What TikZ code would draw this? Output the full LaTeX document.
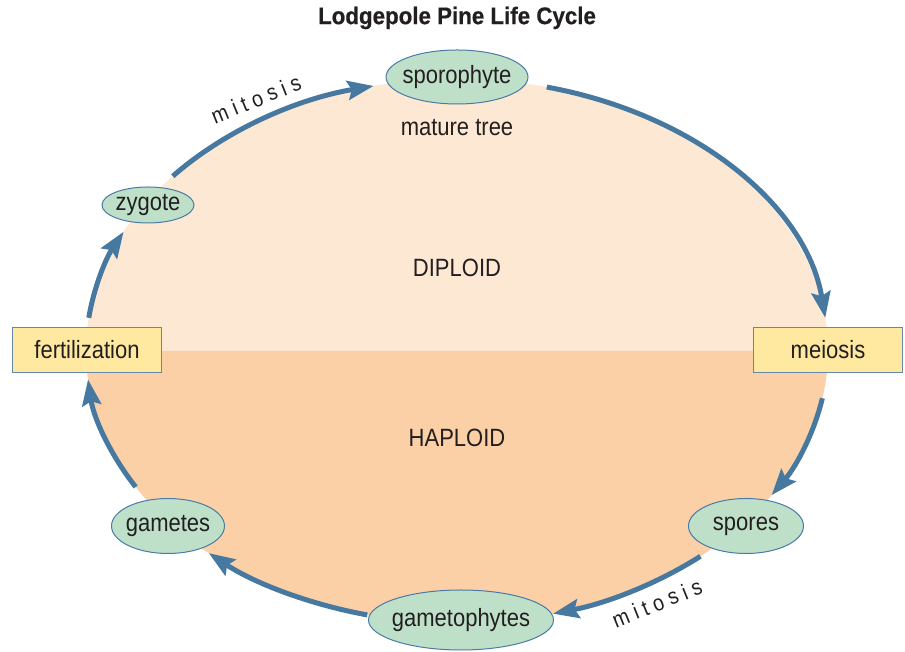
\documentclass[tikz,border=0pt]{standalone}
\usepackage{fontspec}
\setmainfont{Liberation Sans}[FakeStretch=0.88]
\newfontfamily\titlefont{Liberation Sans}[FakeStretch=0.93,BoldFeatures={FakeBold=0.6}]
\usetikzlibrary{shapes.geometric,arrows.meta,calc}
\definecolor{arrowblue}{RGB}{71,121,160}
\definecolor{stagefill}{RGB}{191,224,200}
\definecolor{stageborder}{RGB}{74,122,166}
\definecolor{boxfill}{RGB}{255,233,160}
\definecolor{boxborder}{RGB}{100,136,172}
\definecolor{diploidfill}{RGB}{253,232,211}
\definecolor{haploidfill}{RGB}{251,208,166}
\definecolor{textgray}{RGB}{35,31,32}
\newcommand{\fixedtext}[1]{\makebox[0pt]{#1}}
\begin{document}
\begin{tikzpicture}[x=1pt,y=1pt,
  stage/.style={ellipse, draw=stageborder, line width=1pt, fill=stagefill, inner sep=0pt,
    text=textgray, font=\fontsize{25}{30}\selectfont},
  event/.style={rectangle, draw=boxborder, line width=1.2pt, fill=boxfill, inner sep=0pt,
    minimum width=149pt, minimum height=45pt, text=textgray, font=\fontsize{25}{30}\selectfont},
  label/.style={text=textgray, inner sep=0pt, font=\fontsize{25}{30}\selectfont},
  spacedlabel/.style={text=textgray, inner sep=0pt, font=\fontsize{22.5}{26}\selectfont},
  cyc/.style={draw=arrowblue, line width=5pt, -{Stealth[length=26pt,width=19pt,inset=4pt]}},
]
\useasboundingbox (0,0) rectangle (905,652);
\coordinate (C) at (457,301);
% halves
\fill[diploidfill] (86,301) arc[start angle=180,end angle=0,x radius=371pt,y radius=272pt] -- cycle;
\fill[haploidfill] (86,301) arc[start angle=180,end angle=360,x radius=371pt,y radius=272pt] -- cycle;
% arc start points
\coordinate (s1) at ($(C)+(140:371 and 272)$);
\coordinate (s2) at ($(C)+(76:371 and 272)$);
\coordinate (s3) at ($(C)+(-10:371 and 272)$);
\coordinate (s4) at ($(C)+(-49:371 and 272)$);
\coordinate (s5) at ($(C)+(-104:371 and 272)$);
\coordinate (s6) at ($(C)+(-150:371 and 272)$);
\coordinate (s7) at ($(C)+(173:371 and 272)$);
% connectors
\draw[cyc] (s1) arc[start angle=140,end angle=103,x radius=371pt,y radius=272pt];
\draw[cyc] (s2) arc[start angle=76,end angle=7,x radius=371pt,y radius=272pt];
\draw[cyc] (s3) arc[start angle=-10,end angle=-32,x radius=371pt,y radius=272pt];
\draw[cyc] (s4) arc[start angle=-49,end angle=-75,x radius=371pt,y radius=272pt];
\draw[cyc] (s5) arc[start angle=-104,end angle=-132,x radius=371pt,y radius=272pt];
\draw[cyc] (s6) arc[start angle=-150,end angle=-174,x radius=371pt,y radius=272pt];
\draw[cyc] (s7) arc[start angle=173,end angle=154,x radius=371pt,y radius=272pt];
% nodes
\node[text=textgray, font=\titlefont\bfseries\fontsize{24}{28}\selectfont] (title) at (457,634) {Lodgepole Pine Life Cycle};
\node[stage, minimum width=142pt, minimum height=54pt] (sporo) at (457,575) {\fixedtext{sporophyte}};
\node[label] (mature) at (457,524) {mature tree};
\node[stage, minimum width=92pt, minimum height=36pt] (zyg) at (148,447) {\fixedtext{zygote}};
\node[label] (dip) at (457,384) {DIPLOID};
\node[event] (fert) at (87,302) {fertilization};
\node[event] (mei) at (828,302) {meiosis};
\node[label] (hap) at (457,214) {HAPLOID};
\node[stage, minimum width=113pt, minimum height=55pt] (gam) at (168,126) {\fixedtext{gametes}};
\node[stage, minimum width=115pt, minimum height=55pt] (spo) at (746,126) {\fixedtext{spores}};
\node[stage, minimum width=185pt, minimum height=60pt] (gph) at (461,32) {\fixedtext{gametophytes}};
\node[spacedlabel, rotate=22] (mit1) at (256,553) {m\kern5.5pt i\kern5.5pt t\kern5.5pt o\kern5.5pt s\kern5.5pt i\kern5.5pt s};
\node[spacedlabel, rotate=22] (mit2) at (657,49) {m\kern5.5pt i\kern5.5pt t\kern5.5pt o\kern5.5pt s\kern5.5pt i\kern5.5pt s};
\end{tikzpicture}
\end{document}
